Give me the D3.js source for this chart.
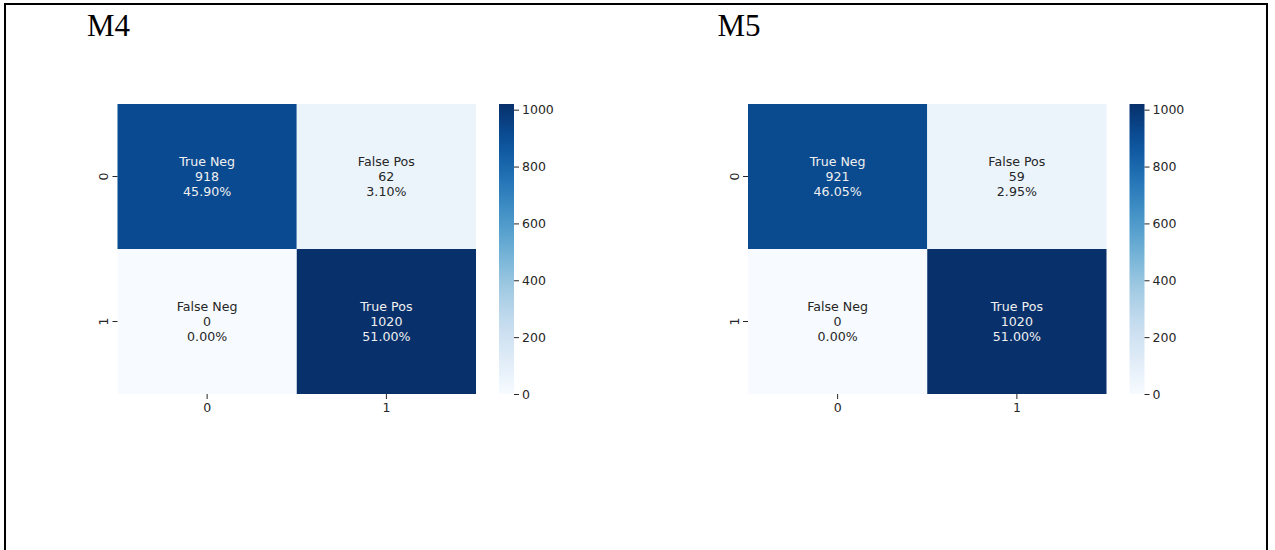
<!DOCTYPE html>
<html>
<head>
<meta charset="utf-8">
<script src="https://cdn.jsdelivr.net/npm/d3@7"></script>
<style>
  html, body { margin: 0; padding: 0; background: #fff; }
  svg { display: block; }
</style>
</head>
<body>
<svg id="chart" width="1275" height="550"></svg>
<script>
// Confusion matrices for two models (rows = actual, columns = predicted)
const models = ["M4", "M5"];
const cellNames = ["True Neg", "False Pos", "False Neg", "True Pos"];
const classLabels = ["0", "1"];
const countsM4 = [918, 62, 0, 1020];
const countsM5 = [921, 59, 0, 1020];
const colorbarTicks = [0, 200, 400, 600, 800, 1000];

const allCounts = [countsM4, countsM5];

const svg = d3.select("#chart");

// page frame
svg.append("rect")
  .attr("x", 5).attr("y", 4)
  .attr("width", 1262).attr("height", 600)
  .attr("fill", "none").attr("stroke", "#000").attr("stroke-width", 2);

const panelW = 630;
const hm = { x: 117.5, y: 104, w: 358.5, h: 290 };
const cb = { x: 499, w: 15 };
const tickColor = "#262626";
const font = "'DejaVu Sans', sans-serif";

models.forEach((name, mi) => {
  const counts = allCounts[mi];
  const total = d3.sum(counts);
  const g = svg.append("g").attr("transform", `translate(${mi * panelW + (mi ? 0.5 : 0)},0)`);

  g.append("text")
    .attr("x", 87).attr("y", 36)
    .attr("font-family", "'Liberation Serif', 'Times New Roman', serif")
    .attr("font-size", 31)
    .attr("fill", "#000")
    .text(name);

  const vmin = d3.min(counts), vmax = d3.max(counts);
  const color = d3.scaleSequential(d3.interpolateBlues).domain([vmin, vmax]);

  const x = d3.scaleBand().domain(classLabels).range([hm.x, hm.x + hm.w]);
  const y = d3.scaleBand().domain(classLabels).range([hm.y, hm.y + hm.h]);

  const cells = counts.map((v, i) => ({
    v, name: cellNames[i],
    row: classLabels[Math.floor(i / 2)],
    col: classLabels[i % 2]
  }));

  g.selectAll("rect.cell").data(cells).join("rect")
    .attr("class", "cell")
    .attr("x", d => x(d.col)).attr("y", d => y(d.row))
    .attr("width", x.bandwidth()).attr("height", y.bandwidth())
    .attr("fill", d => color(d.v));

  const lum = c => { const r = d3.rgb(c); return 0.2126 * r.r + 0.7152 * r.g + 0.0722 * r.b; };
  const labels = g.selectAll("text.annot").data(cells).join("text")
    .attr("class", "annot")
    .attr("text-anchor", "middle")
    .attr("font-family", font)
    .attr("font-size", 12.6)
    .attr("fill", d => lum(color(d.v)) < 128 ? "#f0f0f0" : tickColor);
  labels.each(function(d) {
    const t = d3.select(this);
    const cx = x(d.col) + x.bandwidth() / 2;
    const cy = y(d.row) + y.bandwidth() / 2;
    const lines = [d.name, String(d.v), (d.v / total * 100).toFixed(2) + "%"];
    lines.forEach((s, k) => {
      t.append("tspan").attr("x", cx).attr("y", cy + (k - 1) * 15 + 4.5).text(s);
    });
  });

  // x axis
  const xa = g.append("g").attr("transform", `translate(0,${hm.y + hm.h})`)
    .call(d3.axisBottom(x).tickSize(5).tickPadding(4));
  xa.select(".domain").remove();
  xa.selectAll("line").attr("stroke", tickColor);
  xa.selectAll("text").attr("font-family", font).attr("font-size", 12.5).attr("fill", tickColor);

  // y axis with rotated labels
  const ya = g.append("g").attr("transform", `translate(${hm.x},0)`)
    .call(d3.axisLeft(y).tickSize(5).tickPadding(4));
  ya.select(".domain").remove();
  ya.selectAll("line").attr("stroke", tickColor);
  ya.selectAll("text")
    .attr("font-family", font).attr("font-size", 12.5).attr("fill", tickColor)
    .attr("text-anchor", "middle").attr("dy", 0)
    .attr("x", 0).attr("y", 0)
    .attr("transform", "translate(-14,0) rotate(-90)")
    .attr("dominant-baseline", "central");

  // colorbar
  const gradId = "grad" + mi;
  const grad = g.append("defs").append("linearGradient")
    .attr("id", gradId).attr("x1", 0).attr("y1", 1).attr("x2", 0).attr("y2", 0);
  d3.range(0, 1.0001, 0.05).forEach(t => {
    grad.append("stop").attr("offset", t).attr("stop-color", d3.interpolateBlues(t));
  });
  const cy = d3.scaleLinear().domain([vmin, vmax]).range([hm.y + hm.h, hm.y]);
  g.append("rect")
    .attr("x", cb.x).attr("y", hm.y).attr("width", cb.w).attr("height", hm.h)
    .attr("fill", `url(#${gradId})`);
  const ca = g.append("g").attr("transform", `translate(${cb.x + cb.w},0)`)
    .call(d3.axisRight(cy).tickValues(colorbarTicks).tickSize(5).tickPadding(3).tickFormat(d3.format("d")));
  ca.select(".domain").remove();
  ca.selectAll("line").attr("stroke", tickColor);
  ca.selectAll("text").attr("font-family", font).attr("font-size", 12.5).attr("fill", tickColor);
});
</script>
</body>
</html>
